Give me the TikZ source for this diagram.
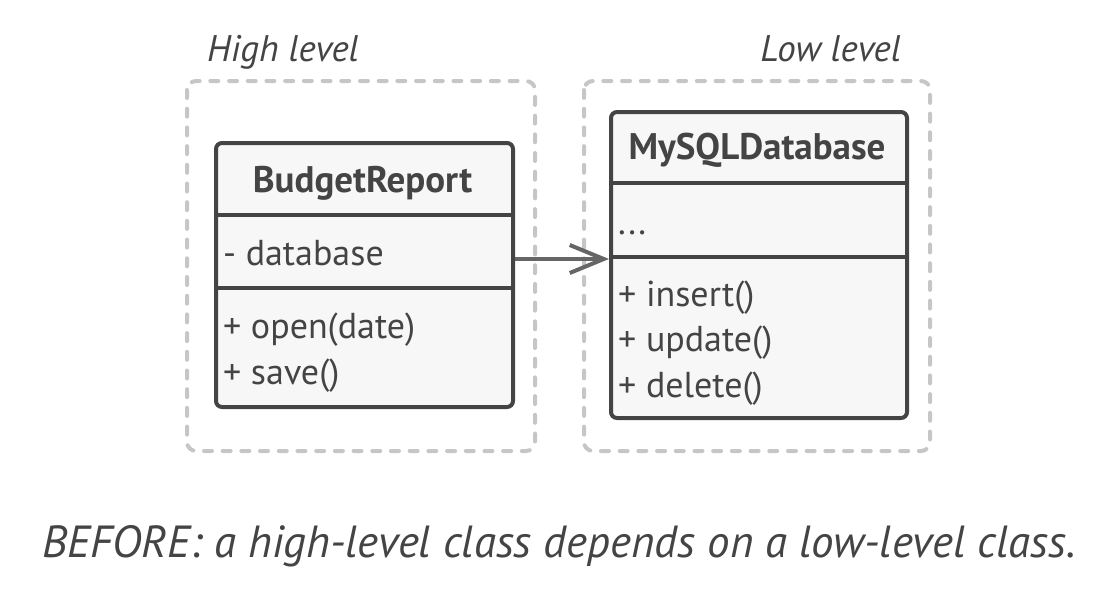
\documentclass[tikz,border=0pt]{standalone}
\usepackage{fontspec}
\setmainfont{PT Sans}
\usetikzlibrary{arrows.meta}
\definecolor{ink}{HTML}{444444}
\definecolor{boxfill}{HTML}{F7F7F7}
\definecolor{dash}{HTML}{C6C6C6}
\definecolor{arrowc}{HTML}{666666}
\tikzset{
  group/.style={draw=dash, line width=4pt, line cap=round, dash pattern=on 8pt off 10.7pt, rounded corners=9pt},
  classbox/.style={draw=ink, fill=boxfill, line width=4pt, rounded corners=6pt, anchor=north west, inner sep=0pt},
  divider/.style={draw=ink, line width=4pt},
  title/.style={font=\fontsize{37}{44}\selectfont\bfseries, text=ink, anchor=base, inner sep=0pt},
  member/.style={font=\fontsize{36}{43}\selectfont, text=ink, anchor=base west, inner sep=0pt},
  label/.style={font=\fontsize{37}{44}\selectfont\itshape, text=ink, inner sep=0pt},
  dep/.style={draw=arrowc, line width=3.5pt, -{Straight Barb[length=34pt,width=28pt,line width=4pt]}}
}
\begin{document}
\begin{tikzpicture}[x=1pt,y=-1pt]
\useasboundingbox (0,0) rectangle (1118,594);
% groups
\draw[group] (187,81) rectangle (535,451);
\draw[group] (584,81) rectangle (930,451);
\node[label, anchor=base west] (hl) at (207,61) {High level};
\node[label, anchor=base east] (ll) at (901,61) {Low level};
% BudgetReport
\node[classbox, minimum width=297pt, minimum height=264pt] (br) at (214,141) {};
\draw[divider] (214,215) -- (511,215);
\draw[divider] (214,288) -- (511,288);
\node[title] (brt) at (362.5,192) {BudgetReport};
\node[member] (bra) at (223,265) {- database};
\node[member] (brm1) at (223,338) {+ open(date)};
\node[member] (brm2) at (223,384) {+ save()};
% MySQLDatabase
\node[classbox, minimum width=296pt, minimum height=306pt] (db) at (609,110) {};
\draw[divider] (609,183) -- (905,183);
\draw[divider] (609,257) -- (905,257);
\node[title] (dbt) at (757,159) {MySQLDatabase};
\node[member] (dba) at (618,234) {...};
\node[member] (dbm1) at (618,306) {+ insert()};
\node[member] (dbm2) at (618,351) {+ update()};
\node[member] (dbm3) at (618,397) {+ delete()};
% dependency
\coordinate (src) at (br.east |- 0,259);
\coordinate (dst) at (db.west |- 0,259);
\draw[dep] (src) -- (dst);
% caption
\node[font=\fontsize{45}{54}\selectfont\itshape, text=ink, anchor=base, inner sep=0pt] (cap) at (559,557) {BEFORE: a high-level class depends on a low-level class.};
\end{tikzpicture}
\end{document}
